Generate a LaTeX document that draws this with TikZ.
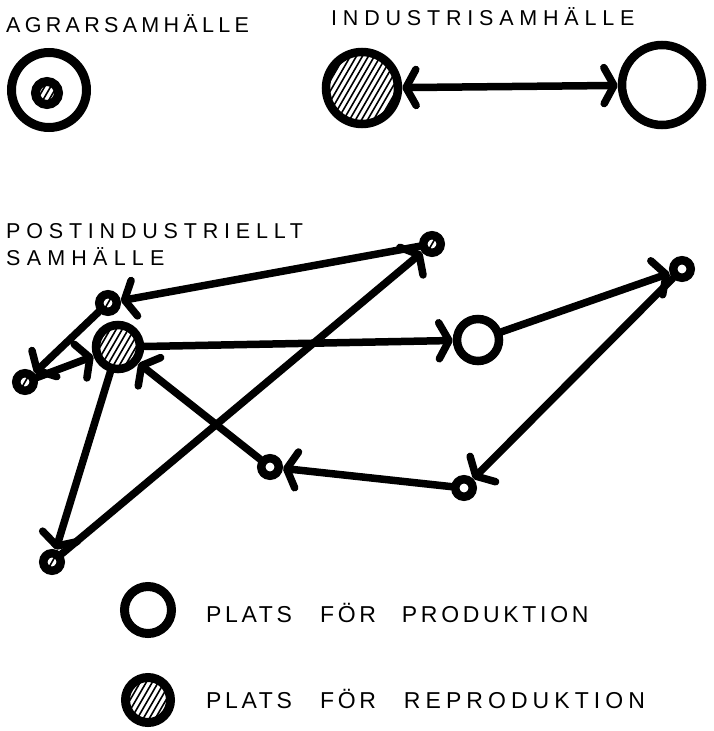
\documentclass[tikz,border=0pt]{standalone}
\usepackage{fontspec}
\setmainfont{Liberation Sans}
\newfontfamily\handfont{Liberation Sans}
\usetikzlibrary{arrows.meta}
\tikzset{
  hatchfill/.style={path picture={
    \foreach \k in {-14,...,14}
      \draw[line width=1.6pt, line cap=butt]
        ([xshift=\k*6pt-40pt, yshift=-69pt]path picture bounding box.center) -- ++(80pt,138pt);
  }},
  ringnode/.style={circle, draw, line width=#1, inner sep=0pt, fill=white},
  ringnode/.default=8.5pt,
  bigopen/.style={ringnode=8.5pt, minimum size=#1},
  bighatch/.style={ringnode=8.5pt, hatchfill, minimum size=#1},
  smallopen/.style={ringnode=8.5pt, minimum size=17.5pt},
  smallhatch/.style={ringnode=8.5pt, hatchfill, minimum size=17.5pt},
  barb/.tip={Straight Barb[round, length=10pt, width=36pt, line width=7.5pt]},
  conn/.style={line width=7.5pt, line cap=round, -barb},
  conn2/.style={line width=7.5pt, line cap=round, barb-barb},
  lbl/.style={anchor=base west, inner sep=0pt, font=\handfont\fontsize{21.5}{25}\selectfont},
  leg/.style={anchor=base west, inner sep=0pt, font=\handfont\fontsize{23}{27}\selectfont}
}
\begin{document}
\begin{tikzpicture}[x=1pt,y=-1pt]
\useasboundingbox[fill=white] (0,0) rectangle (714,731);

% headings
\node[lbl] (tagrar) at (6,32) {\addfontfeature{LetterSpace=20}AGRARSAMHÄLLE};
\node[lbl] (tind) at (331,25) {\addfontfeature{LetterSpace=27}INDUSTRISAMHÄLLE};
\node[lbl] (tpost1) at (6,238) {\addfontfeature{LetterSpace=27}POSTINDUSTRIELLT};
\node[lbl] (tpost2) at (6,265) {\addfontfeature{LetterSpace=29}SAMHÄLLE};

% agrarian
\node[bigopen=75pt, line width=9pt] (agout) at (49,90) {};
\node[ringnode=9pt, hatchfill, minimum size=23pt] (agin) at (47,93) {};

% industrial
\node[bighatch=72pt] (indh) at (362,88) {};
\node[bigopen=80pt] (indo) at (662,85) {};
\draw[conn2] (indh) -- (indo);

% post-industrial
\node[smallhatch] (A) at (432,244) {};
\node[smallhatch] (B) at (108,303) {};
\node[bighatch=44pt] (C) at (118,347) {};
\node[smallhatch] (D) at (25,382) {};
\node[bigopen=42pt] (E) at (478,340) {};
\node[smallopen] (F) at (682,269) {};
\node[smallopen] (G) at (464,488) {};
\node[smallopen] (H) at (270,467) {};
\node[smallhatch] (I) at (52,562) {};

\draw[conn] (A) -- (B);
\draw[conn] (B) -- (D);
\draw[conn] (D) -- (C);
\draw[conn] (C) -- (E);
\draw[conn] (E) -- (F);
\draw[conn] (F) -- (G);
\draw[conn] (G) -- (H);
\draw[conn] (H) -- (C);
\draw[conn] (C) -- (I);
\draw[conn] (I) -- (A);

% legend
\node[ringnode=9pt, minimum size=47pt] (lego) at (148,610) {};
\node[ringnode=9pt, hatchfill, minimum size=45pt] (legh) at (148,700) {};
\node[leg] (tlego) at (206,622) {\addfontfeature{LetterSpace=16}PLATS\hspace{28pt}FÖR\hspace{26pt}PRODUKTION};
\node[leg] (tlegh) at (206,708) {\addfontfeature{LetterSpace=16}PLATS\hspace{28pt}FÖR\hspace{28pt}{\addfontfeature{LetterSpace=22}REPRODUKTION}};
\end{tikzpicture}
\end{document}
